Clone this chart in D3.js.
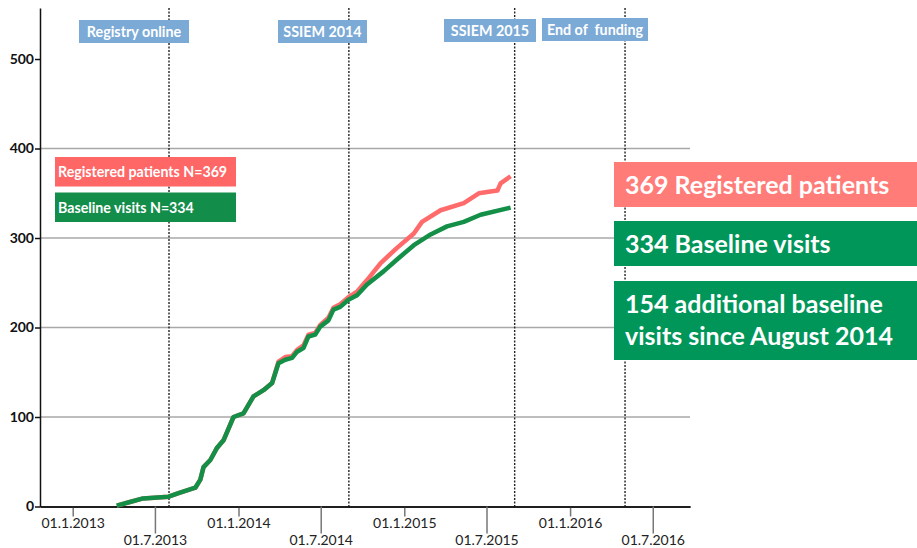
<!DOCTYPE html>
<html>
<head>
<meta charset="utf-8">
<script src="https://cdn.jsdelivr.net/npm/d3@7"></script>
<style>
  body { margin: 0; background: #fff; }
  svg { display: block; font-family: Lato, "Open Sans", sans-serif; }
</style>
</head>
<body>
<div id="chart"></div>
<script>
// cumulative counts
const registeredDates = ['2013-04-08','2013-05-07','2013-06-05','2013-07-31','2013-08-22','2013-09-28','2013-10-09','2013-10-16','2013-10-31','2013-11-14','2013-11-29','2013-12-21','2014-01-12','2014-02-03','2014-02-25','2014-03-16','2014-03-30','2014-04-14','2014-04-29','2014-05-10','2014-05-24','2014-06-04','2014-06-19','2014-06-30','2014-07-18','2014-07-29','2014-08-13','2014-08-31','2014-09-19','2014-10-11','2014-11-10','2014-12-16','2015-01-22','2015-02-09','2015-03-22','2015-05-12','2015-06-14','2015-07-25','2015-08-01','2015-08-23']
const registeredValues = [1,5,9,11,15,21,30,44,52,65,74,100,104,123,130,138,162,167,168,175,180,192,194,203,211,222,226,234,240,253,272,289,305,318,331,339,350,353,361,369]

const baselineDates = ['2013-04-08','2013-05-07','2013-06-05','2013-07-31','2013-08-22','2013-09-28','2013-10-09','2013-10-16','2013-10-31','2013-11-14','2013-11-29','2013-12-21','2014-01-12','2014-02-03','2014-02-25','2014-03-16','2014-03-30','2014-04-14','2014-04-29','2014-05-10','2014-05-24','2014-06-04','2014-06-19','2014-06-30','2014-07-18','2014-07-29','2014-08-13','2014-08-31','2014-09-19','2014-10-11','2014-11-17','2014-12-16','2015-01-22','2015-02-28','2015-04-05','2015-05-12','2015-06-18','2015-08-23']
const baselineValues = [1,5,9,11,15,21,30,44,52,65,74,100,104,123,130,138,160,164,166,173,177,190,192,201,208,220,223,231,236,248,263,276,292,304,313,318,326,334]

const eventDates  = ['2013-08-01','2014-09-01','2015-09-01','2016-05-01']
const eventLabels = ['Registry online','SSIEM 2014','SSIEM 2015','End of  funding']

const janTicks = ['2013-01-01','2014-01-01','2015-01-01','2016-01-01']
const julTicks = ['2013-07-01','2014-07-01','2015-07-01','2016-07-01']
const yTicks   = [0,100,200,300,400,500]
const gridVals = [100,200,300,400]

const legendLabels = ['Registered patients N=369','Baseline visits N=334']
const noteLines = [['369 Registered patients'],['334 Baseline visits'],['154 additional baseline','visits since August 2014']]

const W = 917, H = 548
const parse = d3.timeParse('%Y-%m-%d'),
      fmt   = d3.timeFormat('%d.%-m.%Y')

const RED = '#ff6b6b', GREEN = '#138f48'

const svg = d3.select('#chart').append('svg')
  .attr('width', W).attr('height', H)

const x = d3.scaleTime()
  .domain([parse('2012-10-21'), parse('2016-09-21')])
  .range([40, 690])
const y = d3.scaleLinear()
  .domain([0, 557])
  .range([506.5, 8])

// horizontal grid
svg.append('g').selectAll('line')
  .data(gridVals).join('line')
  .attr('x1', 40).attr('x2', 690)
  .attr('y1', d => y(d)).attr('y2', d => y(d))
  .attr('stroke', '#a8a8a8').attr('stroke-width', 1.5)

// event markers
svg.append('g').selectAll('line')
  .data(eventDates).join('line')
  .attr('x1', d => x(parse(d))).attr('x2', d => x(parse(d)))
  .attr('y1', 8).attr('y2', y(0))
  .attr('stroke', '#222').attr('stroke-width', 1.4)
  .attr('stroke-dasharray', '2,1.5')

// x axis: short ticks on january, long on july
const xa = svg.append('g').attr('transform', `translate(0,${y(0)})`)
xa.append('g')
  .call(d3.axisBottom(x).tickValues(janTicks.map(parse)).tickFormat(fmt).tickSize(10).tickSizeOuter(0))
xa.append('g')
  .call(d3.axisBottom(x).tickValues(julTicks.map(parse)).tickFormat(fmt).tickSize(27).tickSizeOuter(0))
xa.selectAll('.domain').attr('stroke', '#111').attr('stroke-width', 1.5)
xa.selectAll('.tick line').attr('stroke', '#777').attr('stroke-width', 1.5)
xa.selectAll('.tick text')
  .attr('font-size', 14).attr('fill', '#222').attr('font-family', 'Lato, sans-serif')
  .attr('dy', '0.71em')
  .attr('y', function() {
    return +d3.select(this.parentNode).select('line').attr('y2') + 2
  })

// y axis
const ya = svg.append('g').attr('transform', 'translate(40,0)')
  .call(d3.axisLeft(y).tickValues(yTicks).tickSize(5).tickSizeOuter(0))
ya.select('.domain').attr('stroke', '#111').attr('stroke-width', 1.5)
ya.selectAll('.tick line').attr('stroke', '#111').attr('stroke-width', 1.5)
ya.selectAll('.tick text')
  .attr('font-size', 14).attr('font-weight', 'bold').attr('fill', '#111')
  .attr('font-family', 'Lato, sans-serif').attr('x', -6)

// series
const line = d3.line().x(d => x(d[0])).y(d => y(d[1]))
const reg = registeredDates.map((d, i) => [parse(d), registeredValues[i]])
const base = baselineDates.map((d, i) => [parse(d), baselineValues[i]])

svg.append('path').datum(reg)
  .attr('d', line).attr('fill', 'none')
  .attr('stroke', RED).attr('stroke-width', 4.5).attr('stroke-linejoin', 'round')
svg.append('path').datum(base)
  .attr('d', line).attr('fill', 'none')
  .attr('stroke', GREEN).attr('stroke-width', 4.5).attr('stroke-linejoin', 'round')

// event labels
const boxes = [[79, 20, 110], [278, 20, 89], [444, 19, 92], [542, 18, 106]]
const ev = svg.append('g').selectAll('g')
  .data(eventLabels).join('g')
  .attr('transform', (d, i) => `translate(${boxes[i][0]},${boxes[i][1]})`)
ev.append('rect')
  .attr('width', (d, i) => boxes[i][2]).attr('height', 23)
  .attr('fill', '#7caad6')
ev.append('text')
  .attr('x', (d, i) => boxes[i][2] / 2).attr('y', 16.5)
  .attr('text-anchor', 'middle')
  .attr('font-size', 14.3).attr('font-weight', 'bold').attr('fill', '#fff')
  .style('white-space', 'pre')
  .text(d => d)

// legend in the plot
const lg = svg.append('g').selectAll('g')
  .data(legendLabels).join('g')
  .attr('transform', (d, i) => `translate(55,${157 + i * 35.5})`)
lg.append('rect')
  .attr('width', 181).attr('height', 29.5)
  .attr('fill', (d, i) => i ? '#138d4a' : '#ff6666')
lg.append('text')
  .attr('x', 3).attr('y', 20)
  .attr('font-size', 14.2).attr('font-weight', 'bold').attr('fill', '#fff')
  .text(d => d)

// notes on the right
const noteY = [162, 221, 281], noteH = [45, 45, 79]
const nt = svg.append('g').selectAll('g')
  .data(noteLines).join('g')
  .attr('transform', (d, i) => `translate(614,${noteY[i]})`)
nt.append('rect')
  .attr('width', 303).attr('height', (d, i) => noteH[i])
  .attr('fill', (d, i) => i ? '#00965a' : '#ff7c78')
nt.each(function(d) {
  d3.select(this).selectAll('text')
    .data(d).join('text')
    .attr('x', 11).attr('y', (t, j) => 32 + j * 32)
    .attr('font-size', 25).attr('font-weight', 'bold').attr('fill', '#fff')
    .text(t => t)
})
</script>
</body>
</html>
